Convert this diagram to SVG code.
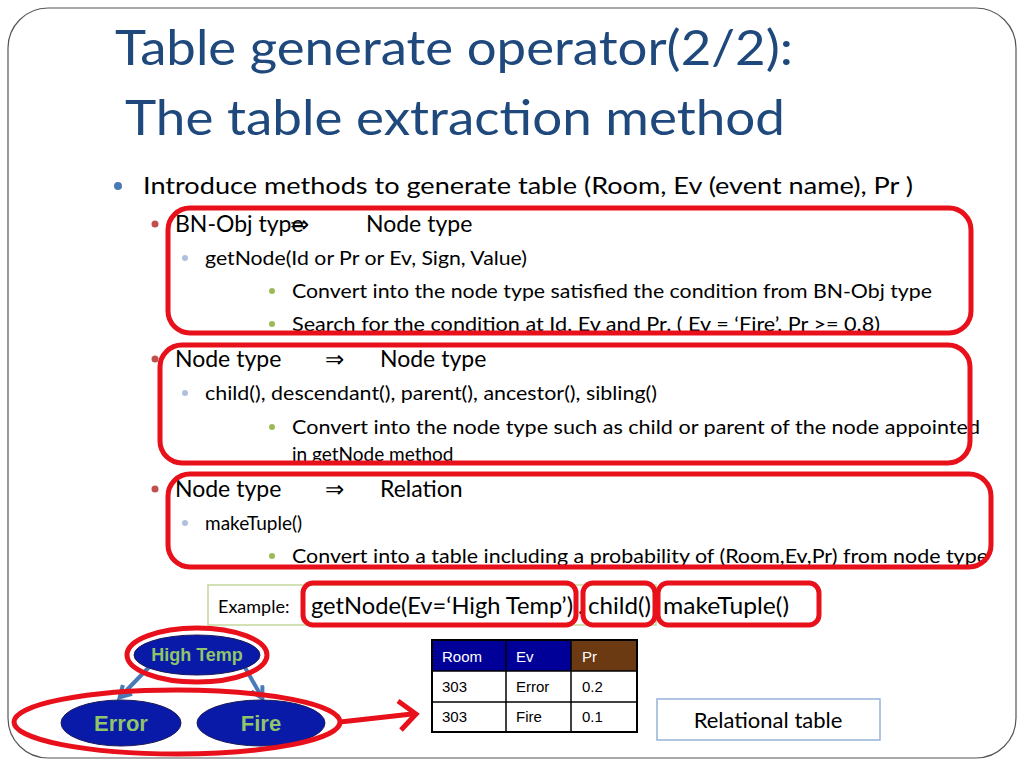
<svg xmlns="http://www.w3.org/2000/svg" width="1024" height="768" viewBox="0 0 1024 768">
<style>
.t{font-family:Lato,"Open Sans",sans-serif;fill:#000}
.red{fill:none;stroke:#e8101a;stroke-width:5}
.cell{font-family:"Liberation Sans",Arial,sans-serif;font-size:15px}
.nd{fill:#0a1aa8;stroke:#1a1a5a;stroke-width:1}
.nl{font-family:"Liberation Sans",Arial,sans-serif;font-weight:bold;fill:#8fc46a;text-anchor:middle}
</style>
<defs>
<marker id="ba" viewBox="0 0 10 10" refX="5" refY="5" markerWidth="4" markerHeight="4" orient="auto"><path d="M1,1 L8,5 L1,9" fill="none" stroke="#4a7ab5" stroke-width="2.5"/></marker>
</defs>
<rect x="0" y="0" width="1024" height="768" fill="#fff"/>
<rect x="8" y="8" width="1008" height="750" rx="40" fill="#fff" stroke="#555" stroke-width="1.2"/>
<text x="115" y="65" font-family="Lato,'Open Sans',sans-serif" font-size="48" fill="#1f497d" textLength="678" lengthAdjust="spacingAndGlyphs">Table generate operator(2/2):</text>
<text x="125" y="135" font-family="Lato,'Open Sans',sans-serif" font-size="48" fill="#1f497d" textLength="660" lengthAdjust="spacingAndGlyphs">The table extraction method</text>
<circle cx="118" cy="186" r="4" fill="#4a7ab5"/>
<text class="t" x="143" y="194" font-size="24" textLength="770" lengthAdjust="spacingAndGlyphs">Introduce methods to generate table (Room,  Ev (event name), Pr )</text>
<circle cx="155" cy="224" r="3.5" fill="#c0504d"/>
<text class="t" x="175" y="232" font-size="23">BN-Obj type</text>
<text class="t" x="290" y="232" font-size="23">⇒</text>
<text class="t" x="366" y="232" font-size="23">Node type</text>
<circle cx="185" cy="258" r="3" fill="#b0c0dc"/>
<text class="t" x="205" y="265" font-size="19" textLength="322" lengthAdjust="spacingAndGlyphs">getNode(Id or Pr or Ev, Sign, Value)</text>
<circle cx="272" cy="291" r="3" fill="#9bbb59"/>
<text class="t" x="292" y="298" font-size="19" textLength="640" lengthAdjust="spacingAndGlyphs">Convert into the node type satisfied the condition from BN-Obj type</text>
<circle cx="272" cy="324" r="3" fill="#9bbb59"/>
<text class="t" x="292" y="331" font-size="19" textLength="588" lengthAdjust="spacingAndGlyphs">Search for the condition at Id, Ev and Pr. ( Ev = ‘Fire’,  Pr &gt;= 0.8)</text>
<circle cx="155" cy="359" r="3.5" fill="#c0504d"/>
<text class="t" x="175" y="367" font-size="23">Node type</text>
<text class="t" x="325" y="367" font-size="23">⇒</text>
<text class="t" x="380" y="367" font-size="23">Node type</text>
<circle cx="185" cy="393" r="3" fill="#b0c0dc"/>
<text class="t" x="205" y="400" font-size="19" textLength="452" lengthAdjust="spacingAndGlyphs">child(), descendant(), parent(), ancestor(), sibling()</text>
<circle cx="272" cy="427" r="3" fill="#9bbb59"/>
<text class="t" x="292" y="434" font-size="19" textLength="688" lengthAdjust="spacingAndGlyphs">Convert  into the node type such as child or parent of the node appointed</text>
<text class="t" x="292" y="461" font-size="19">in getNode method</text>
<circle cx="155" cy="489" r="3.5" fill="#c0504d"/>
<text class="t" x="175" y="497" font-size="23">Node type</text>
<text class="t" x="325" y="497" font-size="23">⇒</text>
<text class="t" x="380" y="497" font-size="23">Relation</text>
<circle cx="185" cy="523" r="3" fill="#b0c0dc"/>
<text class="t" x="205" y="530" font-size="19">makeTuple()</text>
<circle cx="272" cy="556" r="3" fill="#9bbb59"/>
<text class="t" x="292" y="563" font-size="19" textLength="696" lengthAdjust="spacingAndGlyphs">Convert into a table including a probability of (Room,Ev,Pr) from node type</text>
<g id="boxes">
<rect class="red" x="168" y="208" width="803" height="125" rx="22"/>
<rect class="red" x="160" y="345" width="810" height="118" rx="22"/>
<rect class="red" x="168" y="474" width="823" height="93" rx="22"/>
</g>
<rect x="208" y="585" width="448" height="40" fill="#fff" stroke="#c4d79b" stroke-width="1.5"/>
<text class="t" x="218" y="613" font-size="18">Example:</text>
<text class="t" x="311" y="614" font-size="23" textLength="262" lengthAdjust="spacingAndGlyphs">getNode(Ev=‘High Temp’)</text>
<text class="t" x="578" y="614" font-size="23">.</text>
<text class="t" x="588" y="614" font-size="23" textLength="63" lengthAdjust="spacingAndGlyphs">child()</text>
<text class="t" x="654" y="614" font-size="23">.</text>
<text class="t" x="663" y="614" font-size="23" textLength="126" lengthAdjust="spacingAndGlyphs">makeTuple()</text>
<rect class="red" x="303" y="583" width="273" height="42" rx="10"/>
<rect class="red" x="583" y="583" width="72" height="42" rx="10"/>
<rect class="red" x="658" y="583" width="161" height="42" rx="10"/>
<g id="connectors">
<line x1="152" y1="664" x2="123" y2="694" stroke="#4a7ab5" stroke-width="4" marker-end="url(#ba)"/>
<line x1="243" y1="664" x2="260" y2="694" stroke="#4a7ab5" stroke-width="4" marker-end="url(#ba)"/>
<path d="M340,722 L412,714" stroke="#e8101a" stroke-width="5" fill="none"/>
<path d="M398,701 L416,714 L401,730" stroke="#e8101a" stroke-width="5" fill="none"/>
</g>
<g id="n-high"><ellipse class="nd" cx="197" cy="655" rx="63" ry="20"/><text class="nl" x="197" y="661" font-size="18">High Temp</text></g>
<g id="n-error"><ellipse class="nd" cx="121" cy="723" rx="60" ry="23"/><text class="nl" x="121" y="731" font-size="22">Error</text></g>
<g id="n-fire"><ellipse class="nd" cx="261" cy="723" rx="64" ry="23"/><text class="nl" x="261" y="731" font-size="22">Fire</text></g>
<ellipse class="red" cx="197" cy="655" rx="70" ry="27"/>
<ellipse class="red" cx="177" cy="722" rx="163" ry="32"/>
<g id="table">
<rect x="432" y="640" width="74" height="31" fill="#000099"/>
<rect x="506" y="640" width="65" height="31" fill="#000099"/>
<rect x="571" y="640" width="66" height="31" fill="#6b3a12"/>
<rect x="432" y="671" width="205" height="61" fill="#fff"/>
<g stroke="#000" stroke-width="1.5" fill="none">
<rect x="432" y="640" width="205" height="92" stroke-width="2"/>
<line x1="432" y1="671" x2="637" y2="671"/><line x1="432" y1="702" x2="637" y2="702"/>
<line x1="506" y1="640" x2="506" y2="732"/><line x1="571" y1="640" x2="571" y2="732"/>
</g>
<g class="cell"><text x="442" y="662" fill="#fff">Room</text><text x="516" y="662" fill="#fff">Ev</text><text x="582" y="662" fill="#fff">Pr</text>
<text x="442" y="692">303</text><text x="516" y="692">Error</text><text x="582" y="692">0.2</text>
<text x="442" y="722">303</text><text x="516" y="722">Fire</text><text x="582" y="722">0.1</text></g>
</g>
<g id="rel"><rect x="657" y="699" width="223" height="41" fill="#fff" stroke="#95b3d7" stroke-width="1.5"/><text class="t" x="768" y="728" font-size="22" text-anchor="middle">Relational table</text></g>
</svg>
